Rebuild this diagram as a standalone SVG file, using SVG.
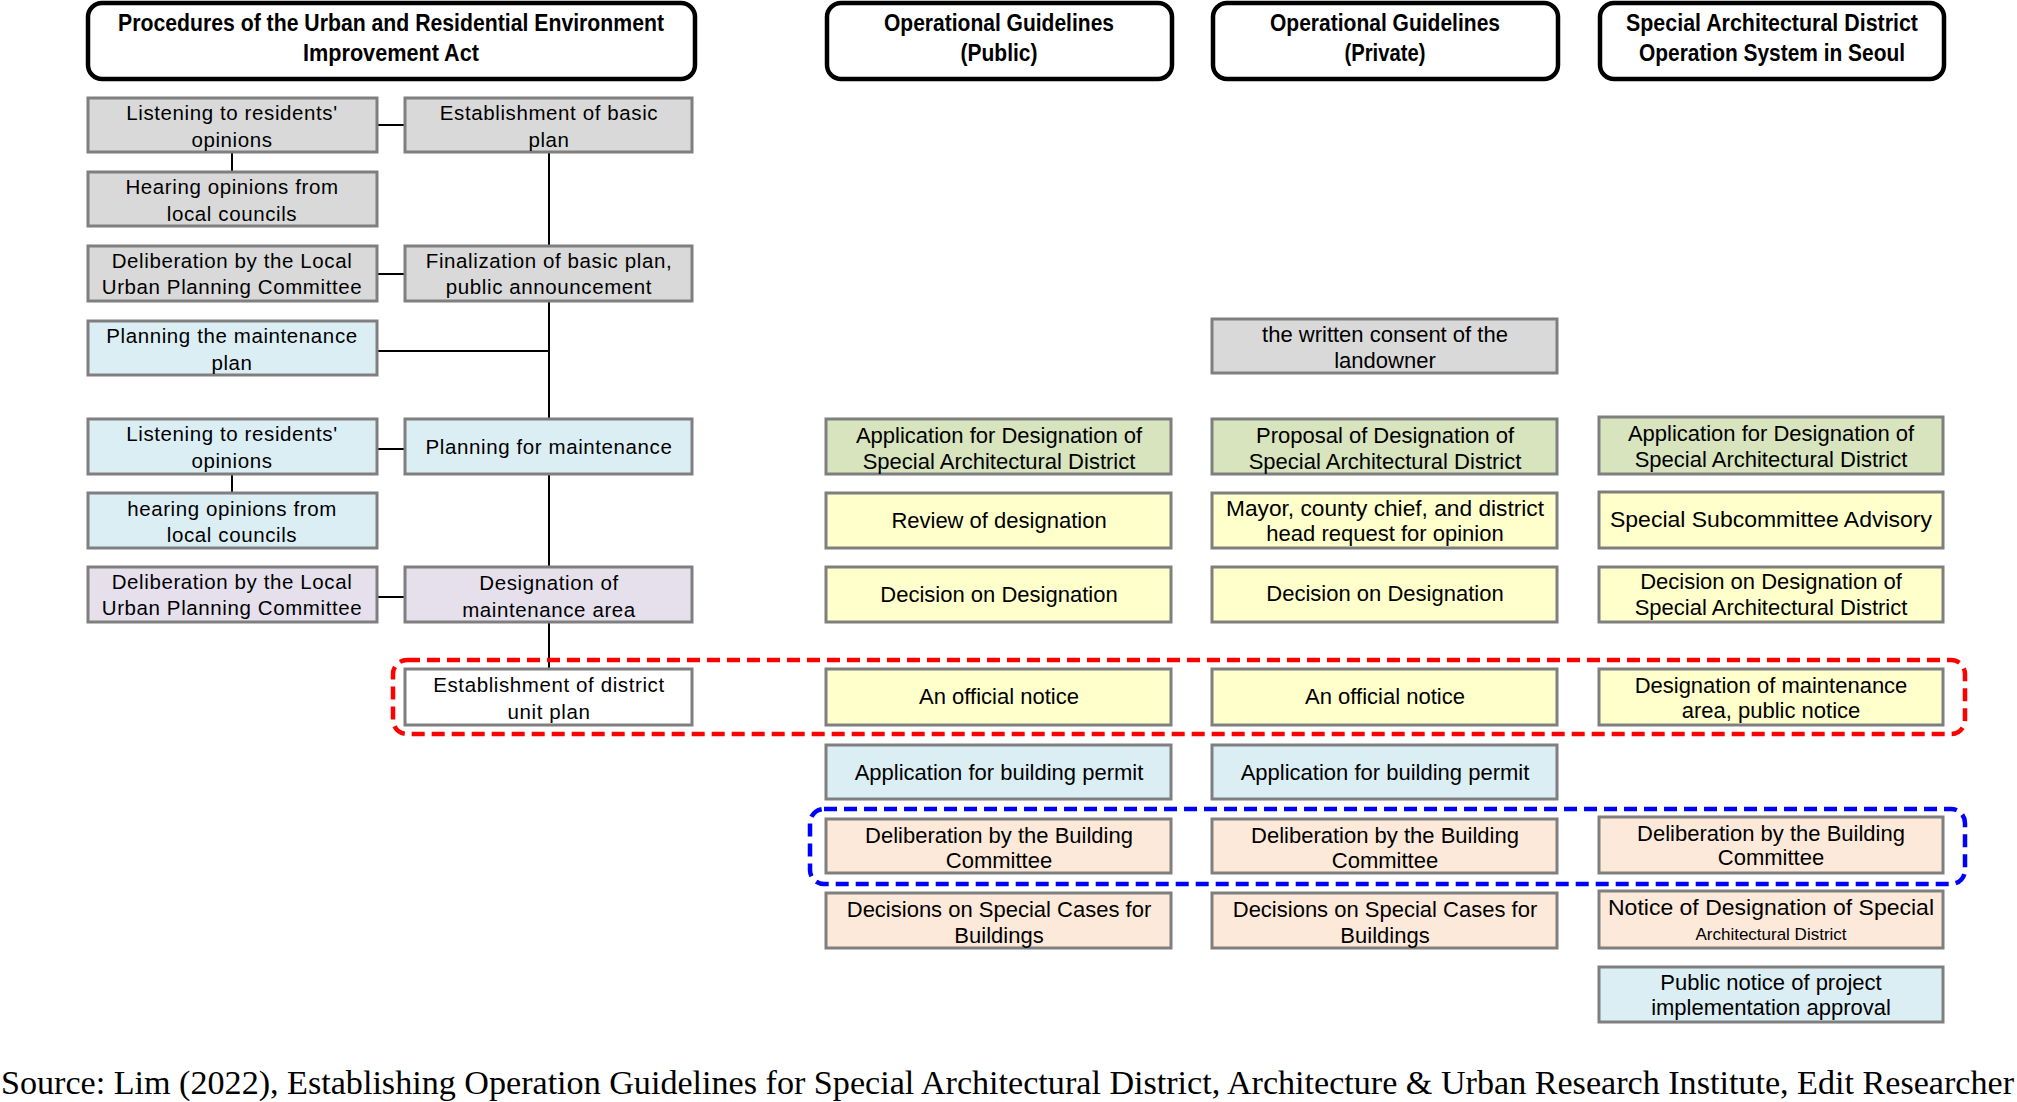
<svg xmlns="http://www.w3.org/2000/svg" width="2017" height="1102" viewBox="0 0 2017 1102">
<style>
.hd{fill:#fff;stroke:#000;stroke-width:4.5}
.b{stroke:#7f7f7f;stroke-width:3}
.gray{fill:#d9d9d9}.blue{fill:#dbeef4}.lav{fill:#e5e0ec}.green{fill:#d7e4bd}.yel{fill:#ffffcc}.peach{fill:#fde9d9}.white{fill:#fff}
text{font-family:"Liberation Sans",Arial,sans-serif;text-anchor:middle;fill:#000}
.h{font-weight:bold;font-size:23px}
.t{font-size:22px}
.l{font-size:20.5px;letter-spacing:0.6px}
.s{font-size:17px}
.src{font-family:"Liberation Serif","Times New Roman",serif;font-size:33px;text-anchor:start}
.c{stroke:#000;stroke-width:2;fill:none}
.dash{fill:none;stroke-width:4.5;stroke-dasharray:13 7}
</style>

<g id="headers">
<g id="h1"><rect class="hd" x="88" y="3" width="607" height="76" rx="14"/>
<text class="h" x="391" y="31" textLength="546" lengthAdjust="spacingAndGlyphs">Procedures of the Urban and Residential Environment</text>
<text class="h" x="391" y="61" textLength="176" lengthAdjust="spacingAndGlyphs">Improvement Act</text></g>
<g id="h2"><rect class="hd" x="827" y="3" width="345" height="76" rx="14"/>
<text class="h" x="999" y="31" textLength="230" lengthAdjust="spacingAndGlyphs">Operational Guidelines</text>
<text class="h" x="999" y="61" textLength="77" lengthAdjust="spacingAndGlyphs">(Public)</text></g>
<g id="h3"><rect class="hd" x="1213" y="3" width="345" height="76" rx="14"/>
<text class="h" x="1385" y="31" textLength="230" lengthAdjust="spacingAndGlyphs">Operational Guidelines</text>
<text class="h" x="1385" y="61" textLength="81" lengthAdjust="spacingAndGlyphs">(Private)</text></g>
<g id="h4"><rect class="hd" x="1600" y="3" width="344" height="76" rx="14"/>
<text class="h" x="1772" y="31" textLength="292" lengthAdjust="spacingAndGlyphs">Special Architectural District</text>
<text class="h" x="1772" y="61" textLength="266" lengthAdjust="spacingAndGlyphs">Operation System in Seoul</text></g>
</g>

<g id="connectors">
<line class="c" x1="377" y1="125" x2="405" y2="125"/>
<line class="c" x1="232" y1="152" x2="232" y2="171"/>
<line class="c" x1="549" y1="152" x2="549" y2="246"/>
<line class="c" x1="377" y1="274" x2="405" y2="274"/>
<line class="c" x1="549" y1="301" x2="549" y2="419"/>
<line class="c" x1="377" y1="351" x2="549" y2="351"/>
<line class="c" x1="377" y1="449" x2="405" y2="449"/>
<line class="c" x1="232" y1="474" x2="232" y2="493"/>
<line class="c" x1="549" y1="474" x2="549" y2="567"/>
<line class="c" x1="377" y1="597" x2="405" y2="597"/>
<line class="c" x1="549" y1="622" x2="549" y2="672"/>
</g>

<g id="left">
<g id="l1"><rect class="b gray" x="88" y="98" width="289" height="54"/><text class="l" x="232" y="120">Listening to residents'</text><text class="l" x="232" y="147">opinions</text></g>
<g id="l2"><rect class="b gray" x="88" y="172" width="289" height="54"/><text class="l" x="232" y="194">Hearing opinions from</text><text class="l" x="232" y="221">local councils</text></g>
<g id="l3"><rect class="b gray" x="88" y="246" width="289" height="55"/><text class="l" x="232" y="268">Deliberation by the Local</text><text class="l" x="232" y="294">Urban Planning Committee</text></g>
<g id="l4"><rect class="b blue" x="88" y="321" width="289" height="54"/><text class="l" x="232" y="343">Planning the maintenance</text><text class="l" x="232" y="370">plan</text></g>
<g id="l5"><rect class="b blue" x="88" y="419" width="289" height="55"/><text class="l" x="232" y="441">Listening to residents'</text><text class="l" x="232" y="468">opinions</text></g>
<g id="l6"><rect class="b blue" x="88" y="493" width="289" height="55"/><text class="l" x="232" y="516">hearing opinions from</text><text class="l" x="232" y="542">local councils</text></g>
<g id="l7"><rect class="b lav" x="88" y="567" width="289" height="55"/><text class="l" x="232" y="589">Deliberation by the Local</text><text class="l" x="232" y="615">Urban Planning Committee</text></g>
</g>

<g id="left2">
<g id="m1"><rect class="b gray" x="405" y="98" width="287" height="54"/><text class="l" x="549" y="120">Establishment of basic</text><text class="l" x="549" y="147">plan</text></g>
<g id="m3"><rect class="b gray" x="405" y="246" width="287" height="55"/><text class="l" x="549" y="268">Finalization of basic plan,</text><text class="l" x="549" y="294">public announcement</text></g>
<g id="m5"><rect class="b blue" x="405" y="419" width="287" height="55"/><text class="l" x="549" y="454">Planning for maintenance</text></g>
<g id="m7"><rect class="b lav" x="405" y="567" width="287" height="55"/><text class="l" x="549" y="590">Designation of</text><text class="l" x="549" y="617">maintenance area</text></g>
<g id="m8"><rect class="b white" x="405" y="669" width="287" height="56"/><text class="l" x="549" y="692">Establishment of district</text><text class="l" x="549" y="719">unit plan</text></g>
</g>

<g id="colA">
<g id="a1"><rect class="b green" x="826" y="419" width="345" height="55"/><text class="t" x="999" y="443">Application for Designation of</text><text class="t" x="999" y="469">Special Architectural District</text></g>
<g id="a2"><rect class="b yel" x="826" y="493" width="345" height="55"/><text class="t" x="999" y="528">Review of designation</text></g>
<g id="a3"><rect class="b yel" x="826" y="567" width="345" height="55"/><text class="t" x="999" y="602">Decision on Designation</text></g>
<g id="a4"><rect class="b yel" x="826" y="669" width="345" height="56"/><text class="t" x="999" y="704">An official notice</text></g>
<g id="a5"><rect class="b blue" x="826" y="745" width="345" height="54"/><text class="t" x="999" y="780">Application for building permit</text></g>
<g id="a6"><rect class="b peach" x="826" y="819" width="345" height="54"/><text class="t" x="999" y="843">Deliberation by the Building</text><text class="t" x="999" y="868">Committee</text></g>
<g id="a7"><rect class="b peach" x="826" y="893" width="345" height="55"/><text class="t" x="999" y="917">Decisions on Special Cases for</text><text class="t" x="999" y="943">Buildings</text></g>
</g>

<g id="colB">
<g id="b0"><rect class="b gray" x="1212" y="319" width="345" height="54"/><text class="t" x="1385" y="342">the written consent of the</text><text class="t" x="1385" y="368">landowner</text></g>
<g id="b1"><rect class="b green" x="1212" y="419" width="345" height="55"/><text class="t" x="1385" y="443">Proposal of Designation of</text><text class="t" x="1385" y="469">Special Architectural District</text></g>
<g id="b2"><rect class="b yel" x="1212" y="493" width="345" height="55"/><text class="t" x="1385" y="516" textLength="318" lengthAdjust="spacingAndGlyphs">Mayor, county chief, and district</text><text class="t" x="1385" y="541">head request for opinion</text></g>
<g id="b3"><rect class="b yel" x="1212" y="567" width="345" height="55"/><text class="t" x="1385" y="601">Decision on Designation</text></g>
<g id="b4"><rect class="b yel" x="1212" y="669" width="345" height="56"/><text class="t" x="1385" y="704">An official notice</text></g>
<g id="b5"><rect class="b blue" x="1212" y="745" width="345" height="54"/><text class="t" x="1385" y="780">Application for building permit</text></g>
<g id="b6"><rect class="b peach" x="1212" y="819" width="345" height="54"/><text class="t" x="1385" y="843">Deliberation by the Building</text><text class="t" x="1385" y="868">Committee</text></g>
<g id="b7"><rect class="b peach" x="1212" y="893" width="345" height="55"/><text class="t" x="1385" y="917">Decisions on Special Cases for</text><text class="t" x="1385" y="943">Buildings</text></g>
</g>

<g id="colC">
<g id="c1"><rect class="b green" x="1599" y="417" width="344" height="57"/><text class="t" x="1771" y="441">Application for Designation of</text><text class="t" x="1771" y="467">Special Architectural District</text></g>
<g id="c2"><rect class="b yel" x="1599" y="492" width="344" height="56"/><text class="t" x="1771" y="527" textLength="322" lengthAdjust="spacingAndGlyphs">Special Subcommittee Advisory</text></g>
<g id="c3"><rect class="b yel" x="1599" y="567" width="344" height="55"/><text class="t" x="1771" y="589">Decision on Designation of</text><text class="t" x="1771" y="615">Special Architectural District</text></g>
<g id="c4"><rect class="b yel" x="1599" y="669" width="344" height="56"/><text class="t" x="1771" y="693">Designation of maintenance</text><text class="t" x="1771" y="718">area, public notice</text></g>
<g id="c6"><rect class="b peach" x="1599" y="817" width="344" height="56"/><text class="t" x="1771" y="841">Deliberation by the Building</text><text class="t" x="1771" y="865">Committee</text></g>
<g id="c7"><rect class="b peach" x="1599" y="891" width="344" height="57"/><text class="t" x="1771" y="915" textLength="326" lengthAdjust="spacingAndGlyphs">Notice of Designation of Special</text><text class="s" x="1771" y="940">Architectural District</text></g>
<g id="c8"><rect class="b blue" x="1599" y="967" width="344" height="55"/><text class="t" x="1771" y="990">Public notice of project</text><text class="t" x="1771" y="1015">implementation approval</text></g>
</g>

<g id="groups">
<rect class="dash" x="393" y="660" width="1572" height="74" rx="14" stroke="#ff0000"/>
<rect class="dash" x="810" y="809" width="1155" height="75" rx="14" stroke="#0000ff"/>
</g>

<text class="src" x="1" y="1094" textLength="2013" lengthAdjust="spacingAndGlyphs">Source: Lim (2022), Establishing Operation Guidelines for Special Architectural District, Architecture &amp; Urban Research Institute, Edit Researcher</text>
</svg>
